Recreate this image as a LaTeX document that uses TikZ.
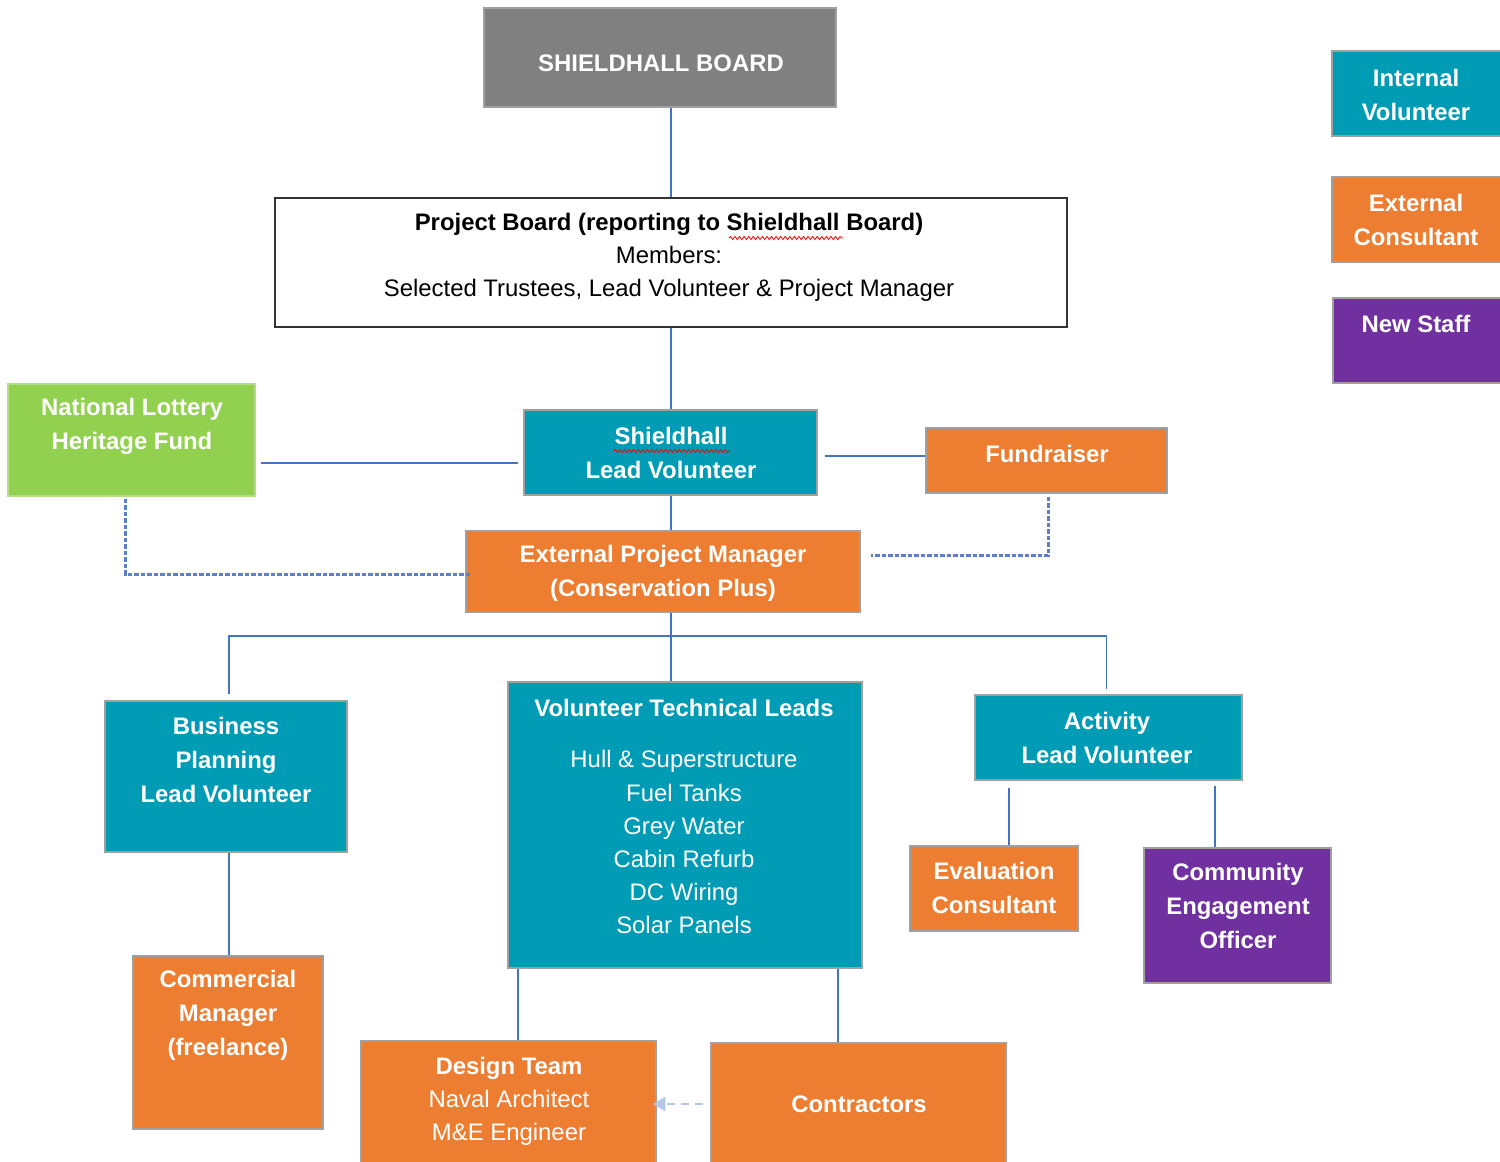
\documentclass[tikz,border=0pt]{standalone}
\usepackage{fontspec}
\setmainfont{Liberation Sans}
\usetikzlibrary{calc,arrows.meta,decorations.pathmorphing}
\definecolor{volteal}{HTML}{009CB5}
\definecolor{extorange}{HTML}{ED7D31}
\definecolor{lotgreen}{HTML}{92D050}
\definecolor{staffpurple}{HTML}{7030A0}
\definecolor{boardgray}{HTML}{808080}
\definecolor{linkblue}{HTML}{4472C4}
\definecolor{dashblue}{HTML}{5B7FCB}
\definecolor{arrowblue}{HTML}{B4C7E7}
\definecolor{boxedge}{HTML}{A0A0A0}
\begin{document}
\begin{tikzpicture}[x=0.02cm,y=-0.02cm,
  box/.style 2 args={draw=boxedge, line width=0.6pt, inner sep=0pt,
    minimum width=#1*0.02cm, minimum height=#2*0.02cm},
  wtxt/.style={text=white, align=center, inner sep=0pt,
    font=\fontsize{13.6}{19.3}\selectfont\bfseries},
  wreg/.style={text=white, align=center, inner sep=0pt,
    font=\fontsize{13.6}{18.8}\selectfont},
  btxt/.style={text=black, align=center, inner sep=0pt,
    font=\fontsize{13.6}{18.8}\selectfont},
  link/.style={draw=linkblue, line width=0.7pt},
  dlink/.style={draw=dashblue, line width=1.3pt, dash pattern=on 2.6pt off 1.1pt},
  spell/.style={draw=red, line width=0.45pt, decorate,
    decoration={snake, amplitude=0.9pt, segment length=2.6pt}}
]
\useasboundingbox (0,0) rectangle (1500,1162);
\clip (0,0) rectangle (1500,1162);

% ---- boxes ----
\node[box={352}{99}, fill=boardgray] (sb) at (660,57.5) {};
\node[box={792}{129}, fill=white, draw=black!80, line width=0.8pt] (pb) at (671,262.5) {};
\node[box={247}{112}, fill=lotgreen, draw=lotgreen!70!white] (nl) at (131.5,440) {};
\node[box={293}{85}, fill=volteal] (slv) at (670.5,452.5) {};
\node[box={241}{65}, fill=extorange] (fund) at (1046.5,460.5) {};
\node[box={394}{81}, fill=extorange] (epm) at (663,571.5) {};
\node[box={242}{151}, fill=volteal] (bp) at (226,776.5) {};
\node[box={190}{173}, fill=extorange] (cm) at (228,1042.5) {};
\node[box={354}{286}, fill=volteal] (vtl) at (685,825) {};
\node[box={295}{140}, fill=extorange] (dt) at (508.5,1111) {};
\node[box={295}{140}, fill=extorange] (ct) at (858.5,1113) {};
\node[box={267}{85}, fill=volteal] (act) at (1108.5,737.5) {};
\node[box={168}{85}, fill=extorange] (ev) at (994,888.5) {};
\node[box={187}{135}, fill=staffpurple] (ceo) at (1237.5,915.5) {};
% key
\node[box={178}{85}, fill=volteal] (keyvol) at (1421,93.5) {};
\node[box={178}{85}, fill=extorange] (keycons) at (1421,219.5) {};
\node[box={178}{85}, fill=staffpurple] (keystaff) at (1422,340.5) {};

% ---- texts ----
\node[wtxt] (sb-t) at (661,63) {SHIELDHALL BOARD};
\node[btxt] (pb-t) at (669,257) {{\bfseries Project Board (reporting to Shieldhall Board)}\\Members:\\Selected Trustees, Lead Volunteer \& Project Manager};
\node[wtxt] (nl-t) at (132,426) {National Lottery\\Heritage Fund};
\node[wtxt] (slv-t) at (671,453) {Shieldhall\\Lead Volunteer};
\node[wtxt] (fund-t) at (1047,454) {Fundraiser};
\node[wtxt] (epm-t) at (663,573) {External Project Manager\\(Conservation Plus)};
\node[wtxt] (bp-t) at (226,760) {Business\\Planning\\Lead Volunteer};
\node[wtxt] (cm-t) at (228,1015.5) {Commercial\\Manager\\(freelance)};
\node[wtxt] (vtl-t) at (684,708) {Volunteer Technical Leads};
\node[wreg] (vtl-l) at (684,842) {Hull \& Superstructure\\Fuel Tanks\\Grey Water\\Cabin Refurb\\DC Wiring\\Solar Panels};
\node[wreg] (dt-t) at (509,1101) {{\bfseries Design Team}\\Naval Architect\\M\&E Engineer};
\node[wtxt] (ct-t) at (859,1104) {Contractors};
\node[wtxt] (act-t) at (1107,738) {Activity\\Lead Volunteer};
\node[wtxt] (ev-t) at (994,888) {Evaluation\\Consultant};
\node[wtxt] (ceo-t) at (1238,906) {Community\\Engagement\\Officer};
\node[wtxt] (keyvol-t) at (1416,95) {Internal\\Volunteer};
\node[wtxt] (keycons-t) at (1416,220) {External\\Consultant};
\node[wtxt] (keystaff-t) at (1416,324) {New Staff};

% spell-check marks under "Shieldhall"
\draw[spell] (729,238) -- (843,238);
\draw[spell] (614,451) -- (730,451);

% ---- connectors ----
\coordinate (spine) at (671,0);
\coordinate (bus) at (671,636);
\coordinate (lotrow) at (0,463);
\coordinate (fundrow) at (0,456);
\coordinate (arrrow) at (0,1104);
\coordinate (bpx) at (229,0);
\coordinate (dtx) at (518,0);
\coordinate (ctx) at (838,0);
\coordinate (evx) at (1009,0);
\coordinate (cex) at (1215,0);

\draw[link] (sb.south -| spine) -- (pb.north -| spine);
\draw[link] (pb.south -| spine) -- (slv.north -| spine);
\draw[link] (slv.south -| spine) -- (epm.north -| spine);
\draw[link] (epm.south -| spine) -- (vtl.north -| spine);
\draw[link] ([xshift=3pt]nl.east |- lotrow) -- ([xshift=-3pt]slv.west |- lotrow);
\draw[link] ([xshift=4pt]slv.east |- fundrow) -- (fund.west |- fundrow);
\draw[link, line width=0.9pt] ($(bp.north -| bpx)+(0,-6)$) |- (bus) -| ($(act.north)+(-2,-5)$);
\draw[link] (bp.south -| bpx) -- (cm.north -| bpx);
\draw[link] (vtl.south -| dtx) -- (dt.north -| dtx);
\draw[link] (vtl.south -| ctx) -- (ct.north -| ctx);
\draw[link] ($(act.south -| evx)+(0,7)$) -- (ev.north -| evx);
\draw[link] ($(act.south -| cex)+(0,5)$) -- (ceo.north -| cex);

\draw[dlink] ($(nl.south)+(-6,2)$) |- ($(epm.west)+(6,3)$);
\draw[dlink] ($(fund.south)+(2,3)$) |- ($(epm.east)+(10,-16)$);

\draw[draw=arrowblue, line width=1.6pt, dash pattern=on 5pt off 3pt,
  -{Triangle[length=7pt,width=8pt]}] ([xshift=-4pt]ct.west |- arrrow) -- ([xshift=-2pt]dt.east |- arrrow);
\end{tikzpicture}
\end{document}
